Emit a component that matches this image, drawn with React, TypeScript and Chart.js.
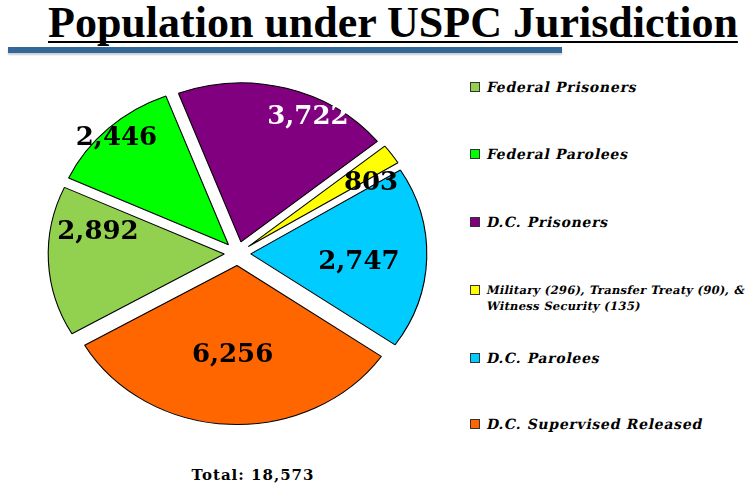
import React, { useEffect, useRef } from "react";
import { Chart, registerables } from "chart.js";

Chart.register(...registerables);

// ---- data ----
const categories = [
  "Federal Prisoners",
  "Federal Parolees",
  "D.C. Prisoners",
  "Military (296), Transfer Treaty (90), & Witness Security (135)",
  "D.C. Parolees",
  "D.C. Supervised Released",
];
const legendLines = [
  ["Federal Prisoners"],
  ["Federal Parolees"],
  ["D.C. Prisoners"],
  ["Military (296), Transfer Treaty (90), &", "Witness Security (135)"],
  ["D.C. Parolees"],
  ["D.C. Supervised Released"],
];
// slice sizes
const sliceValues = [2832, 2291, 3694, 382, 3441, 5933];
// numbers printed on the slices
const valueLabels = ["2,892", "2,446", "3,722", "803", "2,747", "6,256"];
const titleText = "Population under USPC Jurisdiction";
const totalText = "Total: 18,573";

// ---- styles ----
const sliceColors = ["#92D050", "#00FF00", "#800080", "#FFFF00", "#00CCFF", "#FF6600"];
const labelColors = ["#000", "#000", "#fff", "#000", "#000", "#000"];
const STRETCH_X = 1.107;
const EXPLODE = 12;
// label anchor tweaks: angular shift (deg) and radius fraction
const labelAnchors = [
  { shift: 12.3, frac: 0.804 },
  { shift: -0.6, frac: 0.997 },
  { shift: 10.0, frac: 0.946 },
  { shift: 5.4, frac: 0.877 },
  { shift: 2.9, frac: 0.692 },
  { shift: 0.1, frac: 0.639 },
];
const legendRowY = [87, 154, 222, 290, 358, 424];

const piePlugin = {
  id: "stretchedExplodedPie",
  beforeDatasetsDraw(chart: any) {
    const meta = chart.getDatasetMeta(0);
    const arcs = meta.data;
    if (!arcs.length) return false;
    const ctx = chart.ctx;
    const cx = arcs[0].x;
    ctx.save();
    ctx.translate(cx, 0);
    ctx.scale(STRETCH_X, 1);
    ctx.translate(-cx, 0);
    arcs.forEach((arc: any) => {
      const mid = (arc.startAngle + arc.endAngle) / 2;
      ctx.save();
      ctx.translate(Math.cos(mid) * EXPLODE, Math.sin(mid) * EXPLODE);
      arc.draw(ctx);
      ctx.restore();
    });
    ctx.restore();
    return false;
  },
  afterDraw(chart: any) {
    const meta = chart.getDatasetMeta(0);
    const ctx = chart.ctx;
    ctx.save();
    ctx.font = "bold 26px 'DejaVu Serif'";
    ctx.textAlign = "center";
    ctx.textBaseline = "middle";
    meta.data.forEach((arc: any, i: number) => {
      const t = labelAnchors[i];
      const a = (arc.startAngle + arc.endAngle) / 2 + (t.shift * Math.PI) / 180;
      const r = arc.outerRadius * t.frac;
      const x = arc.x + Math.cos(a) * r * STRETCH_X;
      const y = arc.y + Math.sin(a) * r;
      ctx.fillStyle = labelColors[i];
      ctx.fillText(valueLabels[i], x, y);
    });
    ctx.restore();
  },
};

export default function App() {
  const canvasRef = useRef<HTMLCanvasElement | null>(null);

  useEffect(() => {
    if (!canvasRef.current) return;
    const chart = new Chart(canvasRef.current, {
      type: "pie",
      data: {
        labels: categories,
        datasets: [
          {
            data: sliceValues,
            backgroundColor: sliceColors,
            borderColor: "#000",
            borderWidth: 1,
          },
        ],
      },
      options: {
        responsive: false,
        maintainAspectRatio: false,
        animation: false,
        events: [],
        rotation: 239.9,
        radius: 159,
        layout: { padding: 0 },
        plugins: {
          legend: { display: false },
          tooltip: { enabled: false },
          title: { display: false },
        },
      } as any,
      plugins: [piePlugin as any],
    });
    return () => chart.destroy();
  }, []);

  return (
    <div
      style={{
        position: "absolute",
        left: 0,
        top: 0,
        width: 751,
        height: 487,
        background: "#fff",
        overflow: "hidden",
      }}
    >
      <div
        style={{
          position: "absolute",
          left: 48,
          top: 1,
          whiteSpace: "nowrap",
          fontFamily: "'Liberation Serif', serif",
          fontWeight: "bold",
          fontSize: 44,
          lineHeight: "44px",
          color: "#000",
          textDecoration: "underline",
          textDecorationThickness: "2px",
          textUnderlineOffset: "4px",
          textDecorationSkipInk: "none",
        } as any}
      >
        {titleText}
      </div>
      <div
        style={{
          position: "absolute",
          left: 8,
          top: 47,
          width: 554,
          height: 6,
          background: "#336699",
          boxShadow: "0 2px 2px rgba(0,0,0,0.2)",
        }}
      />
      <canvas
        ref={canvasRef}
        width={401}
        height={401}
        style={{ position: "absolute", left: 37, top: 53, width: 401, height: 401 }}
      />
      {legendLines.map((lines, i) => {
        const small = lines.length > 1;
        const fs = small ? 11.5 : 14;
        const lh = small ? 16 : 18;
        const cy = legendRowY[i];
        return (
          <React.Fragment key={i}>
            <div
              style={{
                position: "absolute",
                left: 470,
                top: cy - 5,
                width: 8,
                height: 8,
                background: sliceColors[i],
                border: "1px solid #333",
              }}
            />
            <div
              style={{
                position: "absolute",
                left: 486,
                top: cy - lh / 2,
                whiteSpace: "nowrap",
                fontFamily: "'DejaVu Serif', serif",
                fontWeight: "bold",
                fontStyle: "normal",
                fontSize: fs,
                letterSpacing: small ? "0.3px" : "0.72px",
                lineHeight: lh + "px",
                color: "#000",
              }}
            >
              {lines.map((l, j) => (
                <div
                  key={j}
                  style={{ transform: "skewX(-12deg)", transformOrigin: "0 75%" }}
                >
                  {l}
                </div>
              ))}
            </div>
          </React.Fragment>
        );
      })}
      <div
        style={{
          position: "absolute",
          left: 153,
          width: 200,
          top: 466,
          textAlign: "center",
          whiteSpace: "nowrap",
          fontFamily: "'DejaVu Serif', serif",
          fontWeight: "bold",
          fontSize: 15,
          letterSpacing: "1px",
          lineHeight: "18px",
          color: "#000",
        }}
      >
        {totalText}
      </div>
    </div>
  );
}
